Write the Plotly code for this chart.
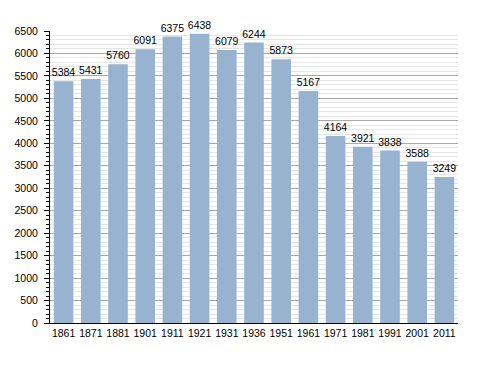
import plotly.graph_objects as go

years = ["1861", "1871", "1881", "1901", "1911", "1921", "1931", "1936",
         "1951", "1961", "1971", "1981", "1991", "2001", "2011"]
population = [5384, 5431, 5760, 6091, 6375, 6438, 6079, 6244,
              5873, 5167, 4164, 3921, 3838, 3588, 3249]

fig = go.Figure(go.Bar(
    x=years, y=population,
    marker=dict(color="#97b3cf", line=dict(width=0)),
    text=[str(v) for v in population],
    textposition="outside",
    constraintext="none",
    textangle=0,
    textfont=dict(family="Liberation Sans, Arial", size=10.5, color="black"),
    cliponaxis=False,
))

fig.update_layout(
    width=480, height=365,
    margin=dict(l=42, r=30, t=23, b=50, autoexpand=False),
    paper_bgcolor="white", plot_bgcolor="white",
    bargap=0.28,
    showlegend=False,
    font=dict(family="Liberation Sans, Arial", size=10, color="black"),
)
fig.update_xaxes(
    type="category", automargin=False,
    showline=True, linecolor="black", linewidth=1,
    ticks="", showgrid=False,
    tickfont=dict(size=10.5),
)
fig.update_yaxes(
    range=[0, 6500], dtick=500, tick0=0, automargin=False,
    showline=True, linecolor="black", linewidth=1,
    ticks="outside", ticklen=5, tickcolor="black",
    showgrid=True, gridcolor="#a8a8a8", gridwidth=1,
    zeroline=False,
    minor=dict(dtick=100, ticks="outside", ticklen=3, tickcolor="black",
               showgrid=True, gridcolor="#e6e6e6", gridwidth=1),
    tickfont=dict(size=10.5),
    ticklabelstandoff=4,
)

fig.write_html("out.html")
